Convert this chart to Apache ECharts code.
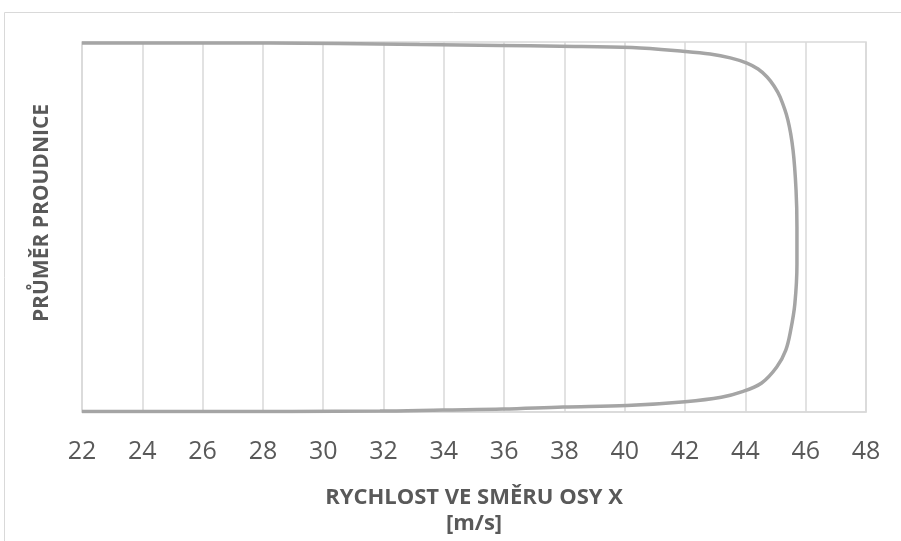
<!DOCTYPE html>
<html>
<head>
<meta charset="utf-8">
<style>
  html, body { margin: 0; padding: 0; background: #ffffff; }
  #chart { width: 901px; height: 541px; }
</style>
<script src="https://cdn.jsdelivr.net/npm/echarts@6/dist/echarts.min.js"></script>
</head>
<body>
<div id="chart"></div>
<script>
// Velocity profile across the nozzle: x = velocity [m/s], y = relative position r/R
const xTicks = [22, 24, 26, 28, 30, 32, 34, 36, 38, 40, 42, 44, 46, 48];

// upper half of the profile, from the wall towards the axis
const upperVelocity = [22.0, 26.0, 30.5, 33.2, 35.86, 37.85, 40.24, 42.0, 42.83, 43.5, 44.05, 44.42, 44.72, 44.95, 45.15, 45.41, 45.58, 45.68, 45.71];
const upperPosition = [0.995, 0.995, 0.992, 0.986, 0.981, 0.977, 0.970, 0.949, 0.935, 0.914, 0.886, 0.854, 0.811, 0.762, 0.703, 0.578, 0.416, 0.200, 0.0];

// lower half of the profile, from the axis towards the wall
const lowerVelocity = [45.71, 45.64, 45.50, 45.34, 45.04, 44.54, 43.9, 43.2, 42.0, 40.07, 37.95, 35.96, 33.97, 31.88, 26.0, 22.0];
const lowerPosition = [-0.200, -0.416, -0.560, -0.665, -0.757, -0.843, -0.890, -0.920, -0.944, -0.965, -0.973, -0.984, -0.989, -0.995, -0.997, -0.997];

const profile = [];
upperVelocity.forEach((v, i) => profile.push([v, upperPosition[i]]));
lowerVelocity.forEach((v, i) => profile.push([v, lowerPosition[i]]));

const textColor = '#595959';
const gridColor = '#d9d9d9';
const fontFamily = '"Open Sans", "DejaVu Sans", sans-serif';

const chart = echarts.init(document.getElementById('chart'), null, { renderer: 'canvas' });
chart.setOption({
  animation: false,
  backgroundColor: '#ffffff',
  graphic: [{
    type: 'rect',
    shape: { x: 4.5, y: 12.5, width: 1200, height: 1000 },
    style: { fill: 'none', stroke: gridColor, lineWidth: 1 },
    silent: true
  }],
  grid: {
    left: 82, right: 35, top: 42, bottom: 129,
    outerBoundsMode: 'none',
    containLabel: false,
    show: true, borderColor: gridColor, borderWidth: 1.5
  },
  xAxis: {
    type: 'value',
    min: xTicks[0],
    max: xTicks[xTicks.length - 1],
    interval: 2,
    axisLine: { show: true, onZero: false, lineStyle: { color: gridColor, width: 1.5 } },
    axisTick: { show: false },
    splitLine: { show: true, lineStyle: { color: gridColor, width: 1.5 } },
    axisLabel: { color: textColor, fontSize: 25, fontFamily: fontFamily, margin: 27 },
    name: 'RYCHLOST VE SMĚRU OSY X\n[m/s]',
    nameLocation: 'middle',
    nameGap: 73,
    nameTextStyle: { color: textColor, fontSize: 22, fontWeight: 'bold', fontFamily: fontFamily, lineHeight: 26 }
  },
  yAxis: {
    type: 'value',
    min: -1,
    max: 1,
    axisLine: { show: false },
    axisTick: { show: false },
    axisLabel: { show: false },
    splitLine: { show: false },
    name: 'PRŮMĚR PROUDNICE',
    nameLocation: 'middle',
    nameRotate: 90,
    nameGap: 29,
    nameTextStyle: { color: textColor, fontSize: 21, fontWeight: 'bold', fontFamily: fontFamily, padding: [0, 0, 0, 28] }
  },
  series: [{
    type: 'line',
    data: profile,
    smooth: 0.35,
    showSymbol: false,
    clip: true,
    lineStyle: { color: '#a5a5a5', width: 3.5 }
  }]
});
</script>
</body>
</html>
